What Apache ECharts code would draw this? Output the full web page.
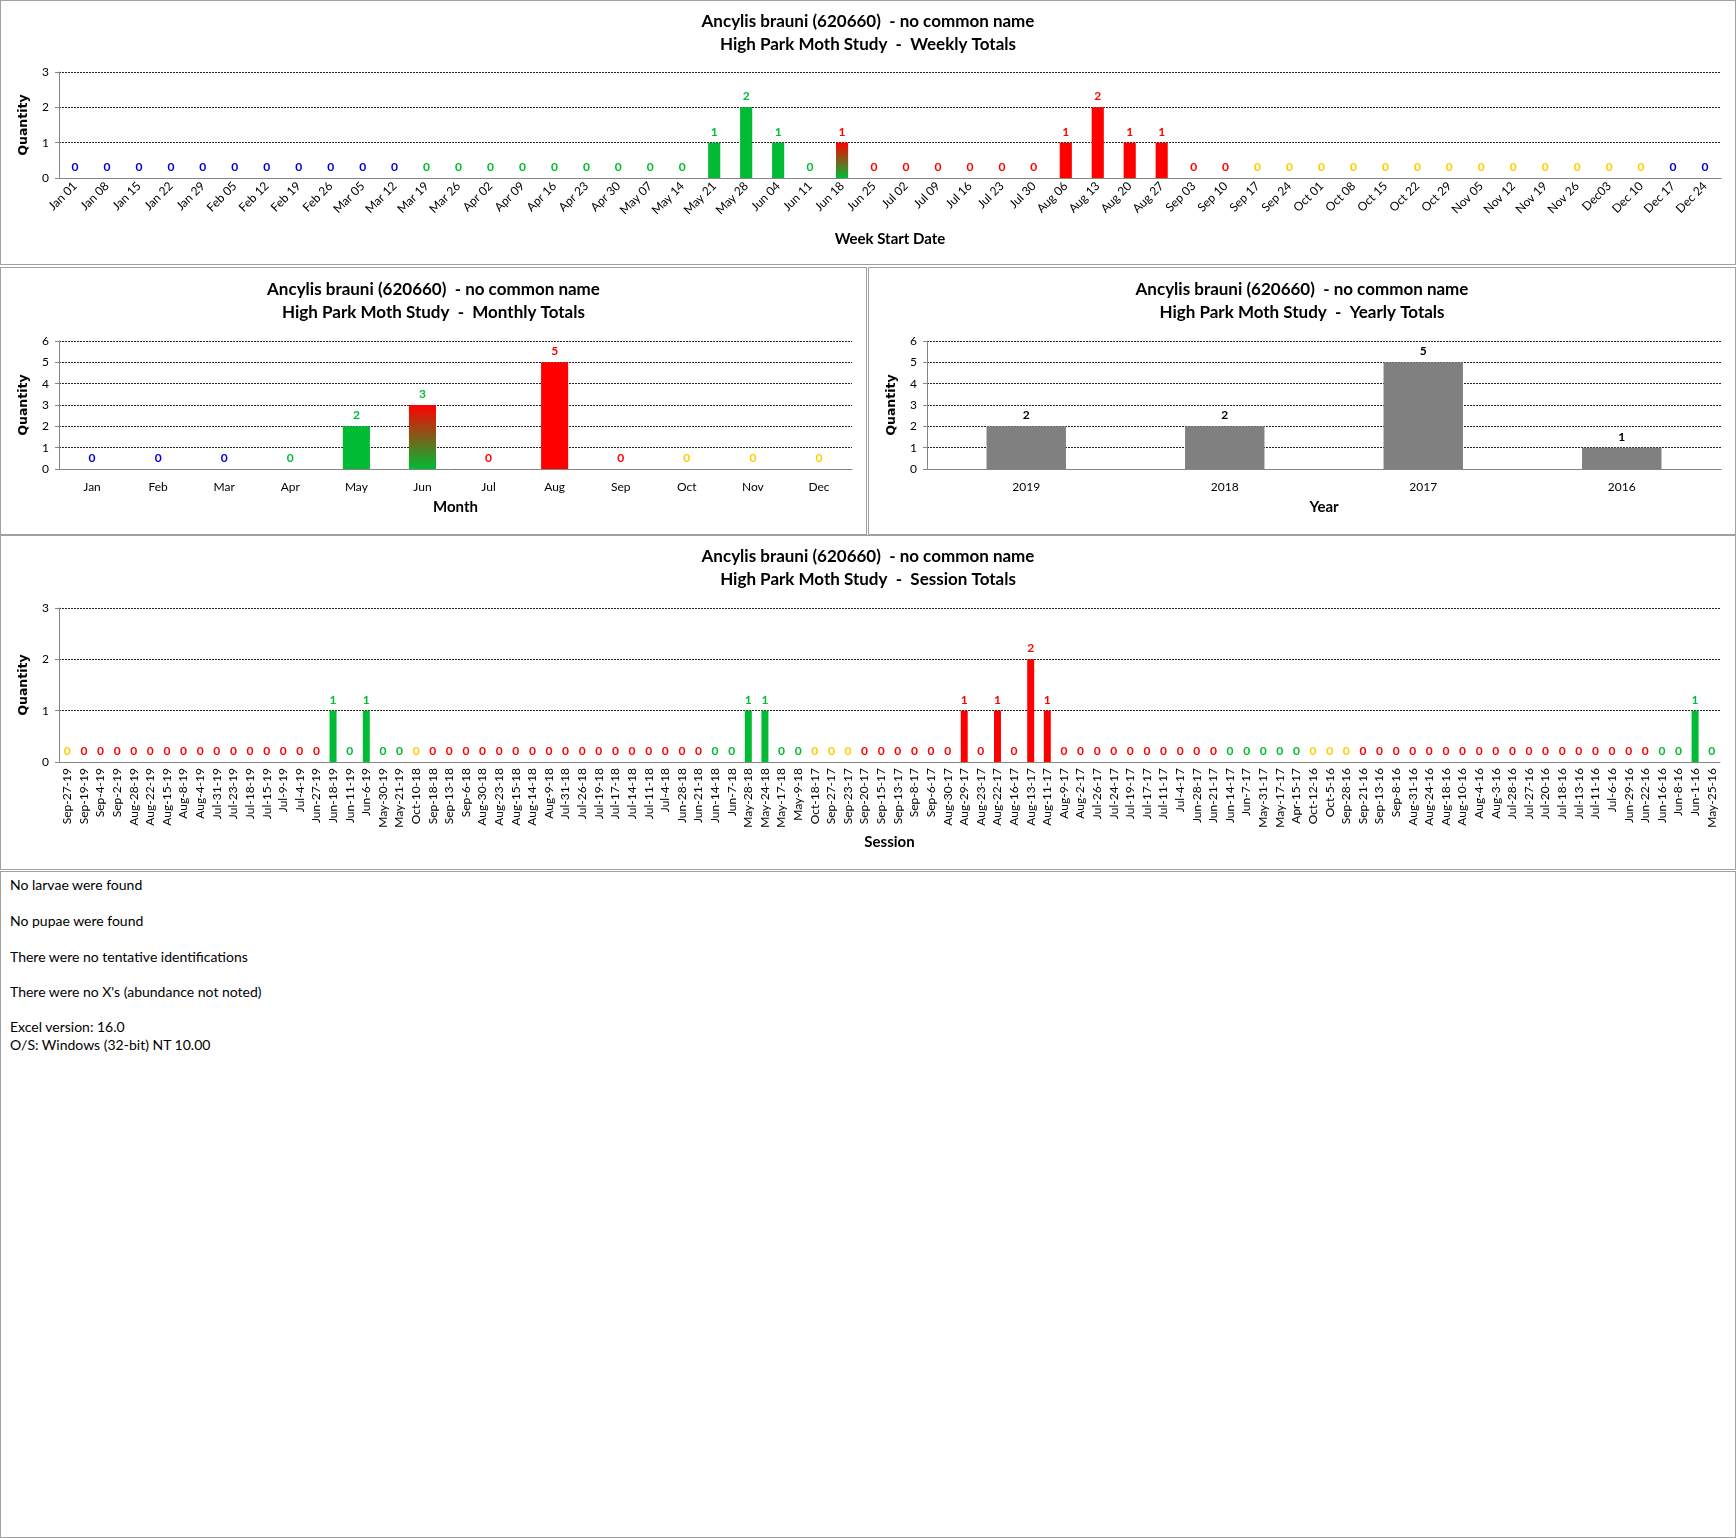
<!DOCTYPE html>
<html>
<head>
<meta charset="utf-8">
<script src="https://cdn.jsdelivr.net/npm/echarts@6/dist/echarts.min.js"></script>
<style>
  body { margin: 0; background: #fff; }
  #page { position: relative; width: 1736px; height: 1538px; background: #fff; }
  .panel { position: absolute; box-sizing: border-box; border: 1px solid #a0a0a0; background: #fff; }
  .chart { position: absolute; left: 0; top: 0; width: 100%; height: 100%; }
  .note { position: absolute; left: 9px; font-family: Lato, "Open Sans", sans-serif; font-size: 14px; color: #000; line-height: 16px; margin: 0; }
</style>
</head>
<body>
<div id="page">
  <div class="panel" style="left:0;top:0;width:1736px;height:265px"><div id="weekly" class="chart"></div></div>
  <div class="panel" style="left:0;top:267px;width:867px;height:268px"><div id="monthly" class="chart"></div></div>
  <div class="panel" style="left:868px;top:267px;width:868px;height:268px"><div id="yearly" class="chart"></div></div>
  <div class="panel" style="left:0;top:535px;width:1736px;height:335px"><div id="session" class="chart"></div></div>
  <div class="panel" style="left:0;top:871px;width:1736px;height:667px">
    <p class="note" style="top:5px">No larvae were found</p>
    <p class="note" style="top:41px">No pupae were found</p>
    <p class="note" style="top:77px">There were no tentative identifications</p>
    <p class="note" style="top:112px">There were no X's (abundance not noted)</p>
    <p class="note" style="top:147px">Excel version: 16.0</p>
    <p class="note" style="top:165px">O/S: Windows (32-bit) NT 10.00</p>
  </div>
</div>
<script>
// species header used on every chart
var speciesTitle = 'Ancylis brauni (620660)  - no common name'

// weekly totals
var weekLabels = ['Jan 01', 'Jan 08', 'Jan 15', 'Jan 22', 'Jan 29', 'Feb 05', 'Feb 12', 'Feb 19', 'Feb 26', 'Mar 05',
  'Mar 12', 'Mar 19', 'Mar 26', 'Apr 02', 'Apr 09', 'Apr 16', 'Apr 23', 'Apr 30', 'May 07', 'May 14',
  'May 21', 'May 28', 'Jun 04', 'Jun 11', 'Jun 18', 'Jun 25', 'Jul 02', 'Jul 09', 'Jul 16', 'Jul 23',
  'Jul 30', 'Aug 06', 'Aug 13', 'Aug 20', 'Aug 27', 'Sep 03', 'Sep 10', 'Sep 17', 'Sep 24', 'Oct 01',
  'Oct 08', 'Oct 15', 'Oct 22', 'Oct 29', 'Nov 05', 'Nov 12', 'Nov 19', 'Nov 26', 'Dec03', 'Dec 10',
  'Dec 17', 'Dec 24']
var weekValues = [0, 0, 0, 0, 0, 0, 0, 0, 0, 0,
  0, 0, 0, 0, 0, 0, 0, 0, 0, 0,
  1, 2, 1, 0, 1, 0, 0, 0, 0, 0,
  0, 1, 2, 1, 1, 0, 0, 0, 0, 0,
  0, 0, 0, 0, 0, 0, 0, 0, 0, 0,
  0, 0]
// B blue, G green, R red, Y yellow, xR / xG = red-green gradient bar with red / green label
var weekSeason = ['B', 'B', 'B', 'B', 'B', 'B', 'B', 'B', 'B', 'B',
  'B', 'G', 'G', 'G', 'G', 'G', 'G', 'G', 'G', 'G',
  'G', 'G', 'G', 'G', 'xR', 'R', 'R', 'R', 'R', 'R',
  'R', 'R', 'R', 'R', 'R', 'R', 'R', 'Y', 'Y', 'Y',
  'Y', 'Y', 'Y', 'Y', 'Y', 'Y', 'Y', 'Y', 'Y', 'Y',
  'B', 'B']

// monthly totals
var monthLabels = ['Jan', 'Feb', 'Mar', 'Apr', 'May', 'Jun', 'Jul', 'Aug', 'Sep', 'Oct', 'Nov', 'Dec']
var monthValues = [0, 0, 0, 0, 2, 3, 0, 5, 0, 0, 0, 0]
var monthSeason = ['B', 'B', 'B', 'G', 'G', 'xG', 'R', 'R', 'R', 'Y', 'Y', 'Y']

// yearly totals
var yearLabels = ['2019', '2018', '2017', '2016']
var yearValues = [2, 2, 5, 1]

// session totals
var sessionLabels = ['Sep-27-19', 'Sep-19-19', 'Sep-4-19', 'Sep-2-19', 'Aug-28-19', 'Aug-22-19', 'Aug-15-19', 'Aug-8-19', 'Aug-4-19', 'Jul-31-19',
  'Jul-23-19', 'Jul-18-19', 'Jul-15-19', 'Jul-9-19', 'Jul-4-19', 'Jun-27-19', 'Jun-18-19', 'Jun-11-19', 'Jun-6-19', 'May-30-19',
  'May-21-19', 'Oct-10-18', 'Sep-18-18', 'Sep-13-18', 'Sep-6-18', 'Aug-30-18', 'Aug-23-18', 'Aug-15-18', 'Aug-14-18', 'Aug-9-18',
  'Jul-31-18', 'Jul-26-18', 'Jul-19-18', 'Jul-17-18', 'Jul-14-18', 'Jul-11-18', 'Jul-4-18', 'Jun-28-18', 'Jun-21-18', 'Jun-14-18',
  'Jun-7-18', 'May-28-18', 'May-24-18', 'May-17-18', 'May-9-18', 'Oct-18-17', 'Sep-27-17', 'Sep-23-17', 'Sep-20-17', 'Sep-15-17',
  'Sep-13-17', 'Sep-8-17', 'Sep-6-17', 'Aug-30-17', 'Aug-29-17', 'Aug-23-17', 'Aug-22-17', 'Aug-16-17', 'Aug-13-17', 'Aug-11-17',
  'Aug-9-17', 'Aug-2-17', 'Jul-26-17', 'Jul-24-17', 'Jul-19-17', 'Jul-17-17', 'Jul-11-17', 'Jul-4-17', 'Jun-28-17', 'Jun-21-17',
  'Jun-14-17', 'Jun-7-17', 'May-31-17', 'May-17-17', 'Apr-15-17', 'Oct-12-16', 'Oct-5-16', 'Sep-28-16', 'Sep-21-16', 'Sep-13-16',
  'Sep-8-16', 'Aug-31-16', 'Aug-24-16', 'Aug-18-16', 'Aug-10-16', 'Aug-4-16', 'Aug-3-16', 'Jul-28-16', 'Jul-27-16', 'Jul-20-16',
  'Jul-18-16', 'Jul-13-16', 'Jul-11-16', 'Jul-6-16', 'Jun-29-16', 'Jun-22-16', 'Jun-16-16', 'Jun-8-16', 'Jun-1-16', 'May-25-16']
var sessionValues = [0, 0, 0, 0, 0, 0, 0, 0, 0, 0,
  0, 0, 0, 0, 0, 0, 1, 0, 1, 0,
  0, 0, 0, 0, 0, 0, 0, 0, 0, 0,
  0, 0, 0, 0, 0, 0, 0, 0, 0, 0,
  0, 1, 1, 0, 0, 0, 0, 0, 0, 0,
  0, 0, 0, 0, 1, 0, 1, 0, 2, 1,
  0, 0, 0, 0, 0, 0, 0, 0, 0, 0,
  0, 0, 0, 0, 0, 0, 0, 0, 0, 0,
  0, 0, 0, 0, 0, 0, 0, 0, 0, 0,
  0, 0, 0, 0, 0, 0, 0, 0, 1, 0]
var sessionSeason = ['Y', 'R', 'R', 'R', 'R', 'R', 'R', 'R', 'R', 'R',
  'R', 'R', 'R', 'R', 'R', 'R', 'G', 'G', 'G', 'G',
  'G', 'Y', 'R', 'R', 'R', 'R', 'R', 'R', 'R', 'R',
  'R', 'R', 'R', 'R', 'R', 'R', 'R', 'R', 'R', 'G',
  'G', 'G', 'G', 'G', 'G', 'Y', 'Y', 'Y', 'R', 'R',
  'R', 'R', 'R', 'R', 'R', 'R', 'R', 'R', 'R', 'R',
  'R', 'R', 'R', 'R', 'R', 'R', 'R', 'R', 'R', 'R',
  'G', 'G', 'G', 'G', 'G', 'Y', 'Y', 'Y', 'R', 'R',
  'R', 'R', 'R', 'R', 'R', 'R', 'R', 'R', 'R', 'R',
  'R', 'R', 'R', 'R', 'R', 'R', 'G', 'G', 'G', 'G']

var COLORS = { B: '#0000CC', G: '#00BB33', R: '#FF0000', Y: '#FFCC00' }
var FONT = 'Lato, "Open Sans", sans-serif'

// turn values + season codes into bar items with their own fill / label colour
function barItems(values, season) {
  return values.map(function (v, i) {
    var s = season ? season[i] : null
    var fill, lab
    if (!s) {
      fill = '#808080'
      lab = '#000'
    } else if (s.charAt(0) == 'x') {
      fill = new echarts.graphic.LinearGradient(0, 0, 0, 1, [
        { offset: 0, color: COLORS.R },
        { offset: 1, color: COLORS.G }
      ])
      lab = COLORS[s.charAt(1)]
    } else {
      fill = COLORS[s]
      lab = COLORS[s]
    }
    return { value: v, itemStyle: { color: fill }, label: { color: lab } }
  })
}

function chartOption(o) {
  return {
    animation: false,
    title: {
      text: speciesTitle + '\n' + o.sub,
      left: 'center',
      top: o.titleTop,
      textStyle: { fontFamily: FONT, fontSize: 17, fontWeight: 'bold', lineHeight: 23, color: '#000' }
    },
    grid: o.grid,
    xAxis: {
      type: 'category',
      data: o.cats,
      name: o.xName,
      nameLocation: 'middle',
      nameGap: o.nameGap,
      nameTextStyle: { fontFamily: FONT, fontSize: 15, fontWeight: 'bold', color: '#000' },
      axisLine: { lineStyle: { color: '#868686' } },
      axisTick: { length: 5, lineStyle: { color: '#868686' } },
      axisLabel: { interval: 0, rotate: o.rotate || 0, margin: o.labelMargin, fontFamily: FONT, fontSize: 12, color: '#000' }
    },
    yAxis: {
      type: 'value',
      min: 0,
      max: o.max,
      interval: 1,
      name: 'Quantity',
      nameLocation: 'middle',
      nameGap: 29,
      nameTextStyle: { fontFamily: '"DejaVu Sans", sans-serif', fontSize: 12.5, fontWeight: 'bold', color: '#000' },
      axisLine: { show: true, lineStyle: { color: '#868686' } },
      axisTick: { show: true, length: 4, lineStyle: { color: '#868686' } },
      axisLabel: { margin: 10, fontFamily: FONT, fontSize: 12, color: '#000' },
      splitLine: { lineStyle: { type: [2, 1], color: '#222', width: 1 } }
    },
    series: [{
      type: 'bar',
      data: o.items,
      barWidth: o.barWidth,
      label: { show: true, position: 'top', distance: 5, fontFamily: FONT, fontSize: 12, fontWeight: 'bold' }
    }]
  }
}

var weekly = echarts.init(document.getElementById('weekly'))
weekly.setOption(chartOption({
  sub: 'High Park Moth Study  -  Weekly Totals', titleTop: 4,
  grid: { left: 58, right: 14, top: 71, bottom: 86 },
  cats: weekLabels, xName: 'Week Start Date', nameGap: 54, rotate: 45, labelMargin: 6,
  max: 3, items: barItems(weekValues, weekSeason), barWidth: '38%'
}))

var monthly = echarts.init(document.getElementById('monthly'))
monthly.setOption(chartOption({
  sub: 'High Park Moth Study  -  Monthly Totals', titleTop: 5,
  grid: { left: 58, right: 14, top: 73, bottom: 65 },
  cats: monthLabels, xName: 'Month', nameGap: 31, labelMargin: 12,
  max: 6, items: barItems(monthValues, monthSeason), barWidth: '41%'
}))

var yearly = echarts.init(document.getElementById('yearly'))
yearly.setOption(chartOption({
  sub: 'High Park Moth Study  -  Yearly Totals', titleTop: 5,
  grid: { left: 58, right: 14, top: 73, bottom: 65 },
  cats: yearLabels, xName: 'Year', nameGap: 31, labelMargin: 12,
  max: 6, items: barItems(yearValues, null), barWidth: '40%'
}))

var session = echarts.init(document.getElementById('session'))
session.setOption(chartOption({
  sub: 'High Park Moth Study  -  Session Totals', titleTop: 4,
  grid: { left: 58, right: 15, top: 72, bottom: 107 },
  cats: sessionLabels, xName: 'Session', nameGap: 73, rotate: 90, labelMargin: 6,
  max: 3, items: barItems(sessionValues, sessionSeason), barWidth: '42%'
}))
</script>
</body>
</html>
